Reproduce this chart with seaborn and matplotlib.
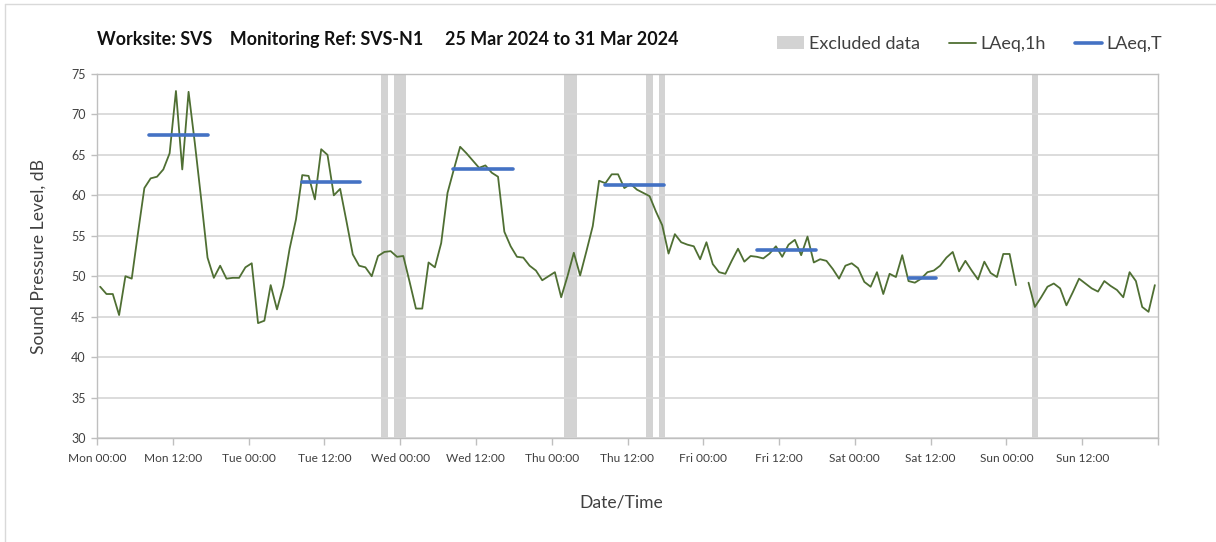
import numpy as np
import pandas as pd
import matplotlib
matplotlib.use("Agg")
import matplotlib.pyplot as plt
from matplotlib.patches import Patch
from matplotlib.lines import Line2D
import seaborn as sns

# ---------------- data ----------------
# hourly LAeq,1h values, Mon 25 Mar 00:00 -> Sun 31 Mar 23:00 (NaN = no data)
laeq_1h = [
    48.7, 47.8, 47.8, 45.2, 50.0, 49.7, 55.4, 60.9, 62.1, 62.3, 63.2, 65.2,
    72.9, 63.2, 72.8, 66.4, 59.5, 52.3, 49.8, 51.3, 49.7, 49.8, 49.8, 51.1,
    51.6, 44.2, 44.5, 48.9, 45.9, 48.8, 53.4, 57.0, 62.5, 62.4, 59.5, 65.7,
    65.0, 60.0, 60.8, 56.8, 52.7, 51.3, 51.1, 50.0, 52.5, 53.0, 53.1, 52.4,
    52.5, 49.3, 46.0, 46.0, 51.7, 51.1, 54.1, 60.3, 63.2, 66.0, 65.2, 64.3,
    63.4, 63.7, 62.8, 62.3, 55.5, 53.7, 52.4, 52.3, 51.3, 50.7, 49.5, 50.0,
    50.5, 47.4, 50.0, 52.9, 50.1, 53.1, 56.2, 61.8, 61.5, 62.6, 62.6, 60.9,
    61.4, 60.7, 60.3, 59.9, 58.0, 56.3, 52.8, 55.2, 54.2, 53.9, 53.7, 52.1,
    54.2, 51.5, 50.5, 50.3, 51.9, 53.4, 51.8, 52.5, 52.4, 52.2, 52.8, 53.7,
    52.4, 53.9, 54.5, 52.6, 54.9, 51.7, 52.1, 51.9, 50.9, 49.7, 51.3, 51.6,
    51.0, 49.3, 48.7, 50.5, 47.8, 50.3, 49.9, 52.6, 49.4, 49.2, 49.7, 50.5,
    50.7, 51.3, 52.3, 53.0, 50.6, 51.9, 50.7, 49.6, 51.8, 50.4, 49.9, 52.75,
    52.75, 48.9, np.nan, 49.2, 46.2, 47.4, 48.7, 49.1, 48.5, 46.4, 48.0, 49.7,
    49.1, 48.5, 48.1, 49.4, 48.8, 48.3, 47.4, 50.5, 49.4, 46.2, 45.6, 48.9,
]

# LAeq,T periods (hours from Mon 00:00)
period_start = [8.3, 32.5, 56.4, 80.4, 104.5, 128.6]
period_end = [17.6, 41.6, 65.8, 89.8, 113.9, 132.9]
laeq_T = [67.4, 61.6, 63.2, 61.3, 53.2, 49.8]

# excluded data periods (hours from Mon 00:00)
excl_start = [45, 47, 74, 87, 89, 148]
excl_end = [46, 49, 76, 88, 90, 149]

tick_labels = ["Mon 00:00", "Mon 12:00", "Tue 00:00", "Tue 12:00", "Wed 00:00",
               "Wed 12:00", "Thu 00:00", "Thu 12:00", "Fri 00:00", "Fri 12:00",
               "Sat 00:00", "Sat 12:00", "Sun 00:00", "Sun 12:00", ""]

title = "Worksite: SVS    Monitoring Ref: SVS-N1     25 Mar 2024 to 31 Mar 2024"

# ---------------- frames ----------------
vals = np.array(laeq_1h, dtype=float)
hours = np.arange(len(vals)) + 0.5
seg = np.cumsum(np.isnan(vals))
df1 = pd.DataFrame({"hour": hours, "level": vals, "seg": seg}).dropna()

rows = []
for i, (s, e, v) in enumerate(zip(period_start, period_end, laeq_T)):
    rows.append({"hour": s, "level": v, "seg": i})
    rows.append({"hour": e, "level": v, "seg": i})
dfT = pd.DataFrame(rows)

# ---------------- style ----------------
sns.set_theme(style="white")
plt.rcParams["font.family"] = ["Lato", "DejaVu Sans"]

GREEN = "#4f6f33"
BLUE = "#4472c4"
GREY = "#d3d3d3"
TXT = "#404040"

fig = plt.figure(figsize=(12.16, 5.42), dpi=100)
ax = fig.add_axes([97 / 1216, 1 - 438 / 542, (1158 - 97) / 1216, (438 - 74) / 542])

for s, e in zip(excl_start, excl_end):
    ax.axvspan(s, e, color=GREY, lw=0, zorder=0.3)

sns.lineplot(data=df1, x="hour", y="level", units="seg", estimator=None,
             color=GREEN, lw=1.3, ax=ax, zorder=3, legend=False)
sns.lineplot(data=dfT, x="hour", y="level", units="seg", estimator=None,
             color=BLUE, lw=2.6, ax=ax, zorder=4, legend=False)

ax.set_xlim(0, 168)
ax.set_ylim(30, 75)
ax.set_yticks(np.arange(30, 76, 5))
ax.set_xticks(np.arange(0, 169, 12))
ax.set_xticklabels(tick_labels)
ax.set_xticks(np.arange(0, 169, 24), minor=True)

ax.set_axisbelow(True)
ax.grid(axis="y", which="major", color="#d9d9d9", lw=1.3)
ax.grid(axis="x", which="minor", color="#dedede", lw=1.3)
ax.grid(axis="x", which="major", visible=False)

for sp in ax.spines.values():
    sp.set_color("#bfbfbf")
    sp.set_linewidth(1.0)
    sp.set_visible(True)

ax.tick_params(axis="x", which="major", direction="out", length=5, width=1,
               color="#bfbfbf", labelsize=8.6, labelcolor=TXT, pad=6, bottom=True)
ax.tick_params(axis="x", which="minor", length=0, bottom=False)
ax.tick_params(axis="y", direction="out", length=4, width=1, color="#bfbfbf",
               labelsize=9, labelcolor=TXT, pad=4, left=True)

ax.set_xlabel("Date/Time", fontsize=12.6, color=TXT)
ax.xaxis.set_label_coords((621 - 97) / 1061, -(502 - 438) / 364)
ax.xaxis.label.set_va("center")
ax.set_ylabel("Sound Pressure Level, dB", fontsize=12.6, color=TXT, labelpad=18)

fig.text(97 / 1216, 1 - 40 / 542, title, fontsize=12.9, fontweight="bold",
         color="#111111", va="center", ha="left")

handles = [Patch(facecolor=GREY, edgecolor="none"),
           Line2D([], [], color=GREEN, lw=1.3),
           Line2D([], [], color=BLUE, lw=2.6)]
leg = fig.legend(handles, ["Excluded data", "LAeq,1h", "LAeq,T"], ncol=3,
                 loc="center right", bbox_to_anchor=(1178 / 1216, 1 - 44 / 542),
                 frameon=False, fontsize=13, handlelength=1.5, handletextpad=0.25,
                 columnspacing=1.6, labelcolor=TXT)

# outer chart border (left and top visible)
fig.add_artist(Line2D([5 / 1216, 5 / 1216], [0, 1 - 4 / 542], transform=fig.transFigure,
                      color="#d9d9d9", lw=1))
fig.add_artist(Line2D([5 / 1216, 1], [1 - 4 / 542, 1 - 4 / 542], transform=fig.transFigure,
                      color="#d9d9d9", lw=1))

fig.savefig("out.png", dpi=100, facecolor="white")
